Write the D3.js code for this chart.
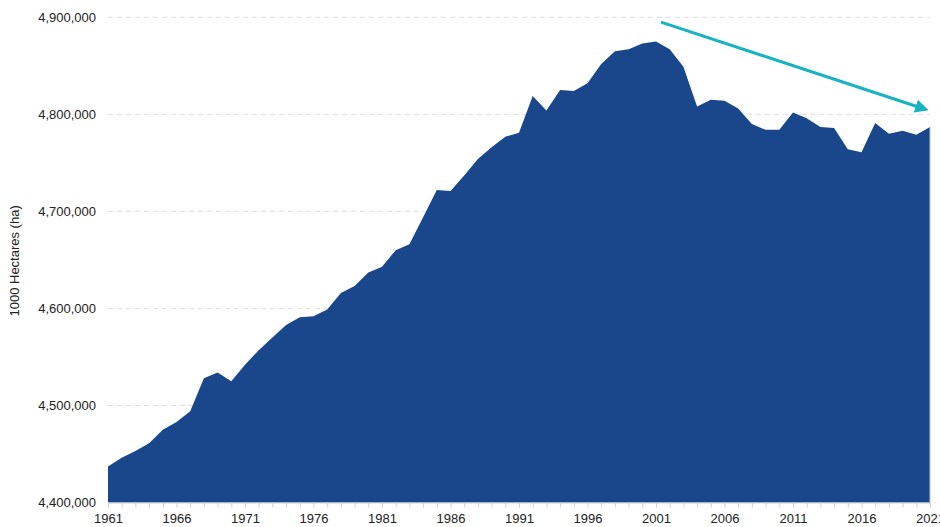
<!DOCTYPE html>
<html>
  <head>
    <meta charset="utf-8">
    <title>Agricultural land</title>
    <style>
      body {
        margin: 0;
        padding: 0;
        background: #fff;
        font-family: 'Liberation Sans', Arial, sans-serif;
      }
    </style>
  </head>
  <body>
    <div id="chart"></div>

    <script src="https://cdn.jsdelivr.net/npm/d3@7"></script>
    <script>
      // Data (1000 ha), 1961-2021
      const years = d3.range(1961, 2022);
      const values = [
        4437, 4446, 4453, 4461, 4475, 4483, 4494, 4528, 4534, 4525,
        4542, 4557, 4570, 4583, 4591, 4592, 4599, 4616, 4623, 4637,
        4643, 4660, 4666, 4694, 4722, 4721, 4737, 4754, 4766, 4777,
        4781, 4819, 4804, 4825, 4824, 4832, 4852, 4865, 4867, 4873,
        4875, 4867, 4849, 4808, 4815, 4814, 4806, 4790, 4784, 4784,
        4802, 4796, 4787, 4786, 4764, 4761, 4791, 4780, 4783, 4779,
        4787
      ].map(v => v * 1000);
      const yTicks = [4400000, 4500000, 4600000, 4700000, 4800000, 4900000];
      const xTickYears = [1961, 1966, 1971, 1976, 1981, 1986, 1991, 1996, 2001, 2006, 2011, 2016, 2021];
      // trend arrow from 2001 to 2021
      const arrowYears = [2001, 2021];
      const arrowValues = [4895000, 4805000];

      const width = 940, height = 527;
      const margin = {top: 17, right: 10, bottom: 24, left: 108};

      const svg = d3.select('#chart')
        .append('svg')
        .attr('width', width)
        .attr('height', height);

      const x = d3.scaleLinear()
        .domain([1961, 2021])
        .range([margin.left, width - margin.right]);

      const y = d3.scaleLinear()
        .domain([4400000, 4900000])
        .range([height - margin.bottom - 0.5, margin.top + 0.3]);

      // gridlines
      svg.append('g')
        .selectAll('line')
        .data(yTicks.slice(1))
        .enter()
        .append('line')
        .attr('x1', x(1961))
        .attr('x2', x(2021))
        .attr('y1', d => y(d))
        .attr('y2', d => y(d))
        .attr('stroke', '#dedede')
        .attr('stroke-width', 1)
        .attr('stroke-dasharray', '5,4');

      // area
      const data = years.map((yr, i) => ({year: yr, value: values[i]}));
      const area = d3.area()
        .x(d => x(d.year))
        .y0(y(4400000))
        .y1(d => y(d.value));

      svg.append('path')
        .datum(data)
        .attr('d', area)
        .attr('fill', '#1a478c');

      // right edge highlight
      svg.append('line')
        .attr('x1', x(2021))
        .attr('x2', x(2021))
        .attr('y1', y(values[values.length - 1]))
        .attr('y2', y(4400000))
        .attr('stroke', '#b8c4d8')
        .attr('stroke-width', 1);

      // x axis
      const xAxis = svg.append('g')
        .attr('transform', `translate(0,${y(4400000)})`)
        .call(d3.axisBottom(x)
          .tickValues(years)
          .tickSize(5)
          .tickFormat(d => xTickYears.includes(d) ? d : ''));
      xAxis.select('.domain').attr('stroke', '#c9c9c9');
      xAxis.selectAll('.tick line').attr('stroke', '#d0d0d0');
      xAxis.selectAll('.tick text')
        .attr('fill', '#222')
        .attr('dy', '0.95em')
        .style('font-size', '13px')
        .style('font-family', "'Liberation Sans', Arial, sans-serif");

      // y axis
      const yAxis = svg.append('g')
        .attr('transform', `translate(${margin.left},0)`)
        .call(d3.axisLeft(y)
          .tickValues(yTicks)
          .tickSize(0)
          .tickPadding(12)
          .tickFormat(d3.format(',')));
      yAxis.select('.domain').remove();
      yAxis.selectAll('.tick text')
        .attr('fill', '#222')
        .style('font-size', '13px')
        .style('font-family', "'Liberation Sans', Arial, sans-serif");

      // y axis title
      svg.append('text')
        .attr('transform', `translate(19,${(y(4400000) + y(4900000)) / 2 + 1}) rotate(-90)`)
        .attr('text-anchor', 'middle')
        .attr('fill', '#222')
        .style('font-size', '13px')
        .text('1000 Hectares (ha)');

      // trend arrow
      svg.append('defs')
        .append('marker')
        .attr('id', 'arrow')
        .attr('viewBox', '0 0 10 10')
        .attr('refX', 8)
        .attr('refY', 5)
        .attr('markerWidth', 4.5)
        .attr('markerHeight', 4.5)
        .attr('orient', 'auto')
        .append('path')
        .attr('d', 'M0,0 L10,5 L0,10 z')
        .attr('fill', '#17b3c1');

      svg.append('line')
        .attr('x1', x(arrowYears[0]) + 5)
        .attr('y1', y(arrowValues[0]))
        .attr('x2', x(arrowYears[1]) - 4)
        .attr('y2', y(arrowValues[1]))
        .attr('stroke', '#17b3c1')
        .attr('stroke-width', 3)
        .attr('marker-end', 'url(#arrow)');
    </script>
  </body>
</html>
